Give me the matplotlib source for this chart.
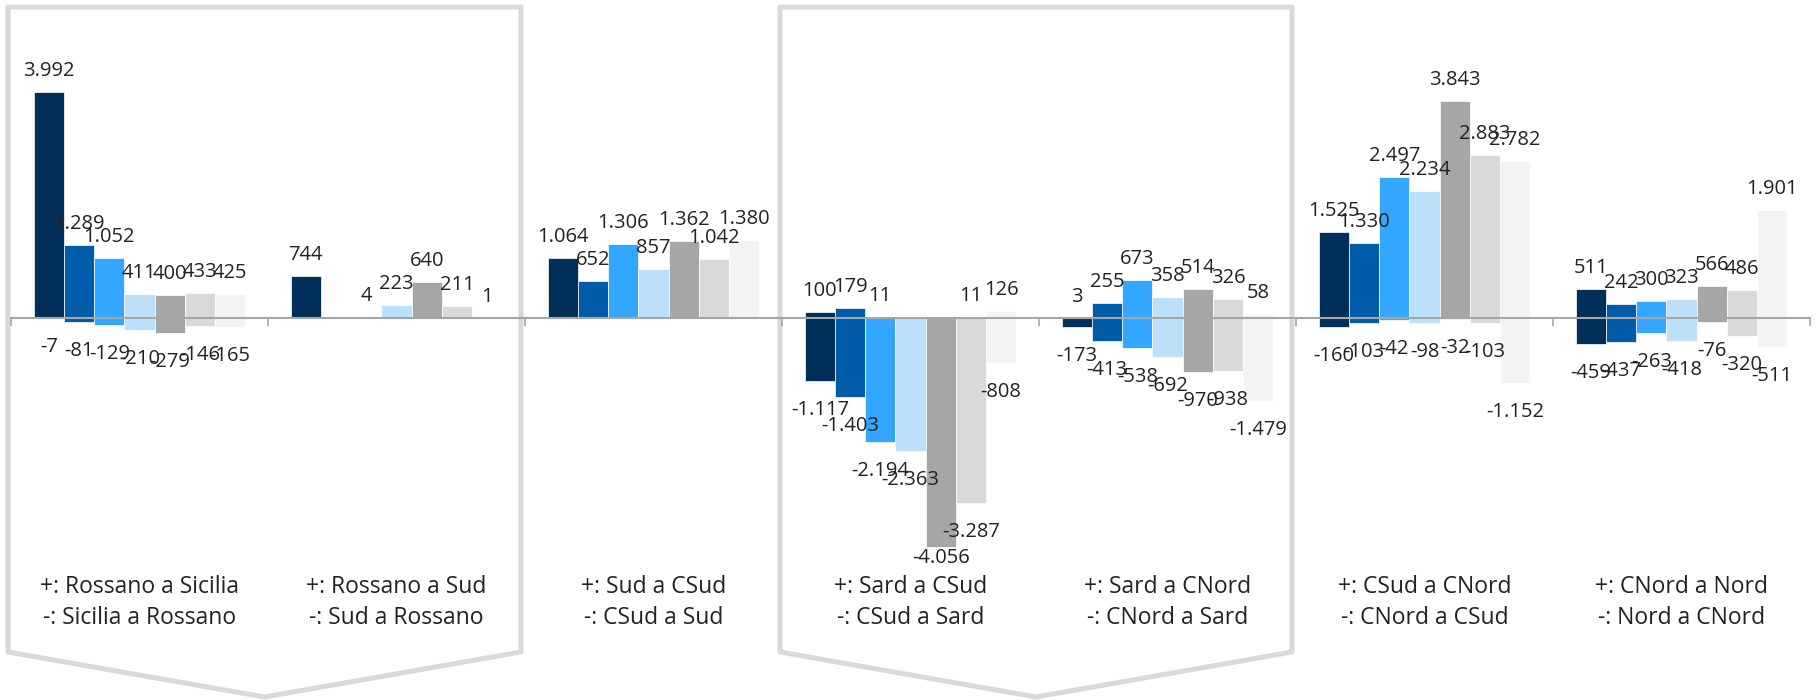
import numpy as np
import matplotlib
matplotlib.use("Agg")
import matplotlib.pyplot as plt
from matplotlib.patches import Polygon
from matplotlib.transforms import blended_transform_factory

plt.rcParams['font.family'] = ['Open Sans', 'DejaVu Sans']

# flussi: "+" verso la prima area, "-" nel verso opposto
cat_plus = ["+: Rossano a Sicilia", "+: Rossano a Sud", "+: Sud a CSud", "+: Sard a CSud",
            "+: Sard a CNord", "+: CSud a CNord", "+: CNord a Nord"]
cat_minus = ["-: Sicilia a Rossano", "-: Sud a Rossano", "-: CSud a Sud", "-: CSud a Sard",
             "-: CNord a Sard", "-: CNord a CSud", "-: Nord a CNord"]

# una riga per serie (7 serie), una colonna per collegamento
pos_vals = [
    [3992, 744, 1064, 100, 3, 1525, 511],
    [1289, 0, 652, 179, 255, 1330, 242],
    [1052, 4, 1306, 11, 673, 2497, 300],
    [411, 223, 857, 0, 358, 2234, 323],
    [400, 640, 1362, 0, 514, 3843, 566],
    [433, 211, 1042, 11, 326, 2883, 486],
    [425, 1, 1380, 126, 58, 2782, 1901],
]
neg_vals = [
    [-7, 0, 0, -1117, -173, -160, -459],
    [-81, 0, 0, -1403, -413, -103, -437],
    [-129, 0, 0, -2194, -538, -42, -263],
    [-210, 0, 0, -2363, -692, -98, -418],
    [-279, 0, 0, -4056, -970, -32, -76],
    [-146, 0, 0, -3287, -938, -103, -320],
    [-165, 0, 0, -808, -1479, -1152, -511],
]
colors = ["#00305A", "#005BA8", "#33A6FF", "#BDE0FA", "#A6A6A6", "#D9D9D9", "#F2F4F3"]

W, H = 1820, 700
fig = plt.figure(figsize=(W / 100, H / 100), dpi=100)

# area del grafico in pixel
left, right, top, bottom = 11, 1810, 10, 567
ax = fig.add_axes([left / W, 1 - bottom / H, (right - left) / W, (bottom - top) / H])
ax.patch.set_visible(False)

ymin, ymax = -4413, 5446
ax.set_xlim(-0.5, len(cat_plus) - 0.5)
ax.set_ylim(ymin, ymax)
upp = (ymax - ymin) / (bottom - top)  # unita' per pixel

n = len(colors)
bw = 0.823 / n
x = np.arange(len(cat_plus))
txt_color = "#222222"


def fmt(v):
    return f"{v:,}".replace(",", ".")


for s in range(n):
    xs = x + (s - (n - 1) / 2) * bw
    ax.bar(xs, pos_vals[s], width=bw, color=colors[s], edgecolor="white", linewidth=0.5)
    ax.bar(xs, neg_vals[s], width=bw, color=colors[s], edgecolor="white", linewidth=0.5)
    for xi, p, m in zip(xs, pos_vals[s], neg_vals[s]):
        if p != 0:
            ax.text(xi, p + 21 * upp, fmt(p), ha="center", va="center",
                    fontsize=14.5, color=txt_color)
        if m != 0:
            ly = max(m - 29 * upp, ymin + 9 * upp)
            ax.text(xi, ly, fmt(m), ha="center", va="center",
                    fontsize=14.5, color=txt_color)

# asse orizzontale sullo zero con tacche tra i gruppi
for side in ["left", "right", "top"]:
    ax.spines[side].set_visible(False)
ax.spines["bottom"].set_position(("data", 0))
ax.spines["bottom"].set_color("#A6A6A6")
ax.spines["bottom"].set_linewidth(1.5)
ax.spines["bottom"].set_zorder(5)
ax.set_xticks(np.arange(-0.5, len(cat_plus), 1))
ax.tick_params(axis="x", length=6, width=1.2, color="#A6A6A6", labelbottom=False)
ax.set_yticks([])

# etichette delle categorie sotto il grafico
tr = blended_transform_factory(ax.transData, fig.transFigure)
for i in range(len(cat_plus)):
    ax.text(i, 1 - 593 / H, cat_plus[i], transform=tr, ha="center", va="baseline",
            fontsize=16.5, color=txt_color)
    ax.text(i, 1 - 624 / H, cat_minus[i], transform=tr, ha="center", va="baseline",
            fontsize=16.5, color=txt_color)

# frecce grigie che raggruppano i collegamenti
for x0, x1 in [(8, 521), (780, 1292)]:
    xm = (x0 + x1) / 2
    pts = [(x0, 7), (x1, 7), (x1, 652), (xm, 697), (x0, 652)]
    pts = [(px / W, 1 - py / H) for px, py in pts]
    fig.add_artist(Polygon(pts, closed=True, fill=False, edgecolor="#D9D9D9",
                           linewidth=3.6, joinstyle="round", transform=fig.transFigure,
                           zorder=-1))

fig.savefig("out.png", dpi=100, facecolor="white")
